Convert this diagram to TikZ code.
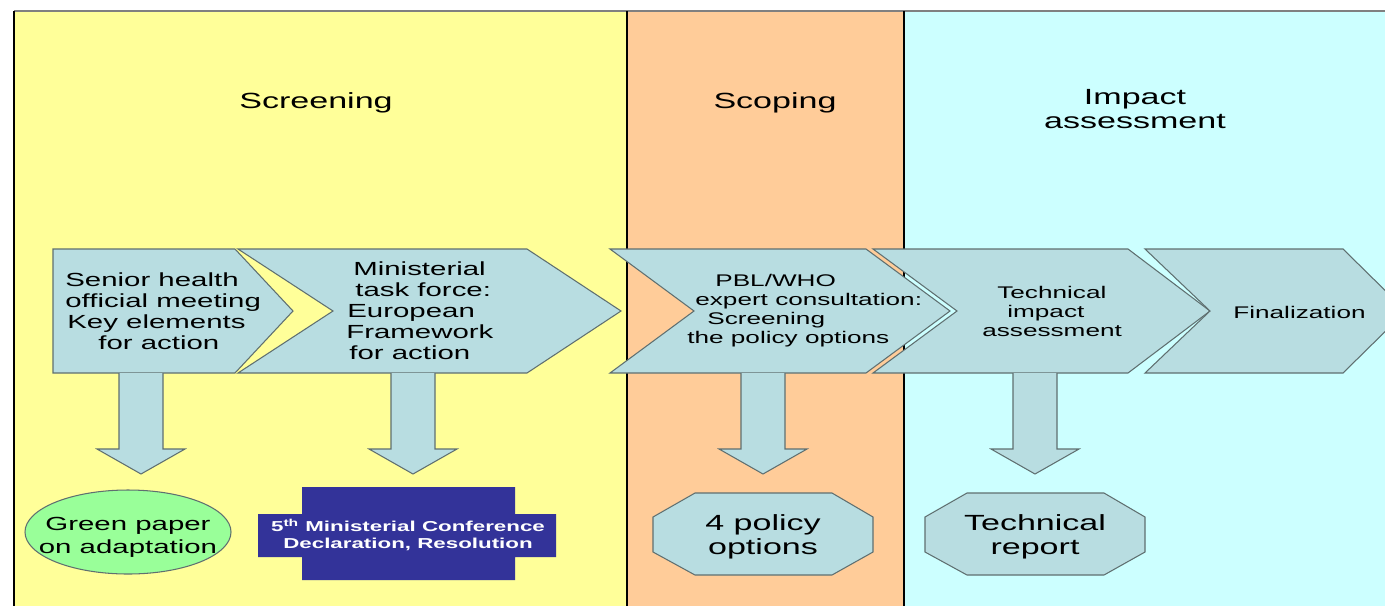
\documentclass[tikz,border=0pt]{standalone}
\usepackage{fontspec}
\setmainfont[FakeStretch=1.55]{Liberation Sans}
\usepackage{tikz}
\usetikzlibrary{positioning,calc}

\definecolor{scrfill}{HTML}{FFFF99}
\definecolor{scpfill}{HTML}{FFCC99}
\definecolor{impfill}{HTML}{CCFFFF}
\definecolor{chevfill}{HTML}{B8DDE1}
\definecolor{chevline}{HTML}{5F6F70}
\definecolor{paperfill}{HTML}{99FF99}
\definecolor{confblue}{HTML}{333399}

\tikzset{
  chev/.style={fill=chevfill, draw=chevline, line width=0.6pt},
  blockarrow/.style={fill=chevfill, draw=chevline, line width=0.6pt},
  phase/.style={font=\fontsize{12.5}{13.6}\selectfont, align=center, inner sep=0pt},
  chevtxt/.style={font=\fontsize{10.8}{11.9}\selectfont, align=left, inner sep=0pt, anchor=west},
  smalltxt/.style={font=\fontsize{9.6}{10.8}\selectfont, align=left, inner sep=0pt, anchor=west},
  outtxt/.style={font=\fontsize{12.5}{13.6}\selectfont, align=center, inner sep=0pt},
}

\newcommand\blockdown[2]{%
  \filldraw[blockarrow] ($(#1)+(-22,0)$) -- ($(#2)+(-22,-25)$) -- ($(#2)+(-44,-25)$)
    -- (#2) -- ($(#2)+(44,-25)$) -- ($(#2)+(22,-25)$) -- ($(#1)+(22,0)$);}

\begin{document}
\begin{tikzpicture}[x=0.02cm, y=-0.02cm]
\useasboundingbox (0,0) rectangle (1385,606);
\clip (0,0) rectangle (1385,606);

\fill[scrfill] (14,11) rectangle (627,606);
\fill[scpfill] (627,11) rectangle (904,606);
\fill[impfill] (904,11) rectangle (1385,606);
\draw[gray, line width=1.2pt] (14,11) -- (1385,11);
\draw[black, line width=0.6pt] (14,11) -- (14,606) (627,11) -- (627,606) (904,11) -- (904,606);

\node[phase] (scr) at (316,103) {Screening};
\node[phase] (scp) at (775,103) {Scoping};
\node[phase] (imp) at (1135,109) {Impact\\assessment};

\draw[chev] (53,249) -- (235,249) -- (293,311) -- (235,373) -- (53,373) -- cycle;
\draw[chev] (238,249) -- (527,249) -- (621,311) -- (527,373) -- (238,373) -- (333,311) -- cycle;
\draw[chev] (610,249) -- (866,249) -- (950,311) -- (866,373) -- (610,373) -- (694,311) -- cycle;
\draw[chev] (873,249) -- (1128,249) -- (1210,311) -- (1128,373) -- (873,373) -- (957,311) -- cycle;
\draw[chev] (1145,249) -- (1343,249) -- (1406,311) -- (1343,373) -- (1145,373) -- (1210,311) -- cycle;

\node[chevtxt] (c1) at (65,311) {Senior health\\official meeting\\\hspace*{0.04cm}Key elements\\\hspace*{0.66cm}for action};
\node[chevtxt] (c2) at (346,311) {\hspace*{0.14cm}Ministerial\\\hspace*{0.18cm}task force:\\\hspace*{0.02cm}European\\Framework\\\hspace*{0.06cm}for action};
\node[smalltxt] (c3) at (687,311) {\hspace*{0.56cm}PBL/WHO\\\hspace*{0.16cm}expert consultation:\\\hspace*{0.4cm}Screening\\the policy options};
\node[smalltxt] (c4) at (982,311) {\hspace*{0.3cm}Technical\\\hspace*{0.5cm}impact\\assessment};
\node[smalltxt] (c5) at (1233,312) {Finalization};

\coordinate (a1) at (141,373);
\coordinate (b1) at (141,474);
\coordinate (a2) at (413,373);
\coordinate (b2) at (413,474);
\coordinate (a3) at (763,373);
\coordinate (b3) at (763,474);
\coordinate (a4) at (1035,373);
\coordinate (b4) at (1035,474);
\blockdown{a1}{b1}
\blockdown{a2}{b2}
\blockdown{a3}{b3}
\blockdown{a4}{b4}

\draw[fill=paperfill, draw=chevline, line width=0.6pt] (128,532) ellipse [x radius=103, y radius=42];
\node[outtxt, font=\fontsize{10.8}{13}\selectfont] (o1) at (128,537) {Green paper\\on adaptation};

\fill[confblue] (302,487) -- (515,487) -- (515,514) -- (556,514) -- (556,557) -- (515,557)
  -- (515,580) -- (302,580) -- (302,557) -- (258,557) -- (258,514) -- (302,514) -- cycle;
\node[outtxt, text=white, font=\fontsize{8.2}{9.6}\selectfont\bfseries] (o2) at (408,535) {5\textsuperscript{th} Ministerial Conference\\Declaration, Resolution};

\draw[chev] (695,493) -- (832,493) -- (873,517) -- (873,552) -- (832,575) -- (695,575) -- (653,552) -- (653,517) -- cycle;
\node[outtxt] (o3) at (763,537) {4 policy\\options};
\draw[chev] (967,493) -- (1104,493) -- (1145,517) -- (1145,552) -- (1104,575) -- (967,575) -- (925,552) -- (925,517) -- cycle;
\node[outtxt] (o4) at (1035,537) {Technical\\report};
\end{tikzpicture}
\end{document}
